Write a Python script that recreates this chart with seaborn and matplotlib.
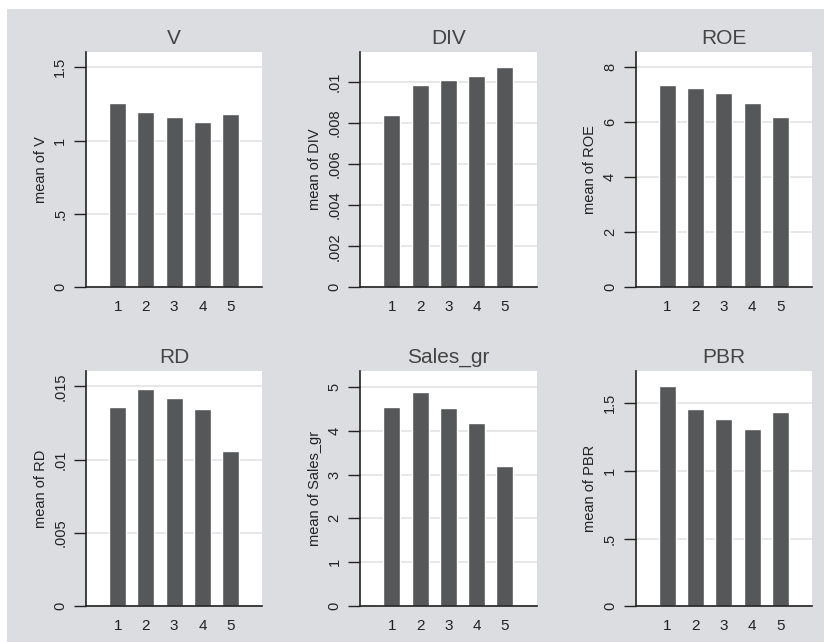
import matplotlib
matplotlib.use('Agg')
import matplotlib.pyplot as plt
from matplotlib.patches import Rectangle
import pandas as pd
import seaborn as sns

# group labels (quintiles)
groups = ['1', '2', '3', '4', '5']

# means
V = [1.258, 1.197, 1.161, 1.127, 1.181]
DIV = [0.00841, 0.00983, 0.01008, 0.01028, 0.01071]
ROE = [7.356, 7.247, 7.065, 6.702, 6.193]
RD = [0.01357, 0.01480, 0.01421, 0.01348, 0.01060]
Sales_gr = [4.538, 4.879, 4.515, 4.182, 3.189]
PBR = [1.623, 1.453, 1.380, 1.311, 1.434]

# axis ticks per panel
V_ticks, V_labels = [0, 0.5, 1, 1.5], ['0', '.5', '1', '1.5']
DIV_ticks, DIV_labels = [0, 0.002, 0.004, 0.006, 0.008, 0.01], ['0', '.002', '.004', '.006', '.008', '.01']
ROE_ticks, ROE_labels = [0, 2, 4, 6, 8], ['0', '2', '4', '6', '8']
RD_ticks, RD_labels = [0, 0.005, 0.01, 0.015], ['0', '.005', '.01', '.015']
Sales_ticks, Sales_labels = [0, 1, 2, 3, 4, 5], ['0', '1', '2', '3', '4', '5']
PBR_ticks, PBR_labels = [0, 0.5, 1, 1.5], ['0', '.5', '1', '1.5']

panels = [
    ('V', V, V_ticks, V_labels, 1.604),
    ('DIV', DIV, DIV_ticks, DIV_labels, 0.01146),
    ('ROE', ROE, ROE_ticks, ROE_labels, 8.556),
    ('RD', RD, RD_ticks, RD_labels, 0.01604),
    ('Sales_gr', Sales_gr, Sales_ticks, Sales_labels, 5.356),
    ('PBR', PBR, PBR_ticks, PBR_labels, 1.736),
]

sns.set_theme(style='white')
plt.rcParams['font.family'] = ['Liberation Sans', 'DejaVu Sans']

W, H = 824, 642
fig = plt.figure(figsize=(W / 100, H / 100), dpi=100)
fig.patch.set_facecolor('white')
fig.patches.append(Rectangle((7 / W, 0), 1, 1 - 9 / H, transform=fig.transFigure,
                             facecolor='#dcdde0', edgecolor='none', zorder=-10))

bar_color = '#555759'
lefts = [86, 360.3, 635.7]
tops = [52, 371]
aw, ah = 176.3, 235.3

for i, (name, vals, ticks, labels, ymax) in enumerate(panels):
    r, c = divmod(i, 3)
    x0 = lefts[c] / W
    y0 = 1 - (tops[r] + ah) / H
    ax = fig.add_axes([x0, y0, aw / W, ah / H])
    ax.set_facecolor('white')
    df = pd.DataFrame({'group': groups, 'value': vals})
    sns.barplot(data=df, x='group', y='value', color=bar_color, saturation=1,
                width=0.6, ax=ax, errorbar=None)
    ax.set_xlim(-1.12, 5.12)
    ax.set_ylim(0, ymax)
    ax.set_yticks(ticks)
    ax.set_yticklabels(labels, rotation=90, va='center', fontsize=10.5, color='#222222')
    ax.tick_params(axis='y', length=8.5, width=1, color='#222222', pad=5, left=True)
    ax.tick_params(axis='x', length=0, pad=9, labelsize=11, labelcolor='#222222')
    ax.yaxis.grid(True, color='#e0e0e0', lw=1.1)
    ax.set_axisbelow(True)
    for s in ['top', 'right']:
        ax.spines[s].set_visible(False)
    for s in ['left', 'bottom']:
        ax.spines[s].set_color('#222222')
        ax.spines[s].set_linewidth(1.2)
    ax.set_xlabel('')
    ax.set_ylabel(f'mean of {name}', fontsize=10.5, color='#222222', labelpad=4)
    ax.set_title(name, fontsize=15, color='#444444', pad=6)

fig.savefig('out.png', dpi=100)
